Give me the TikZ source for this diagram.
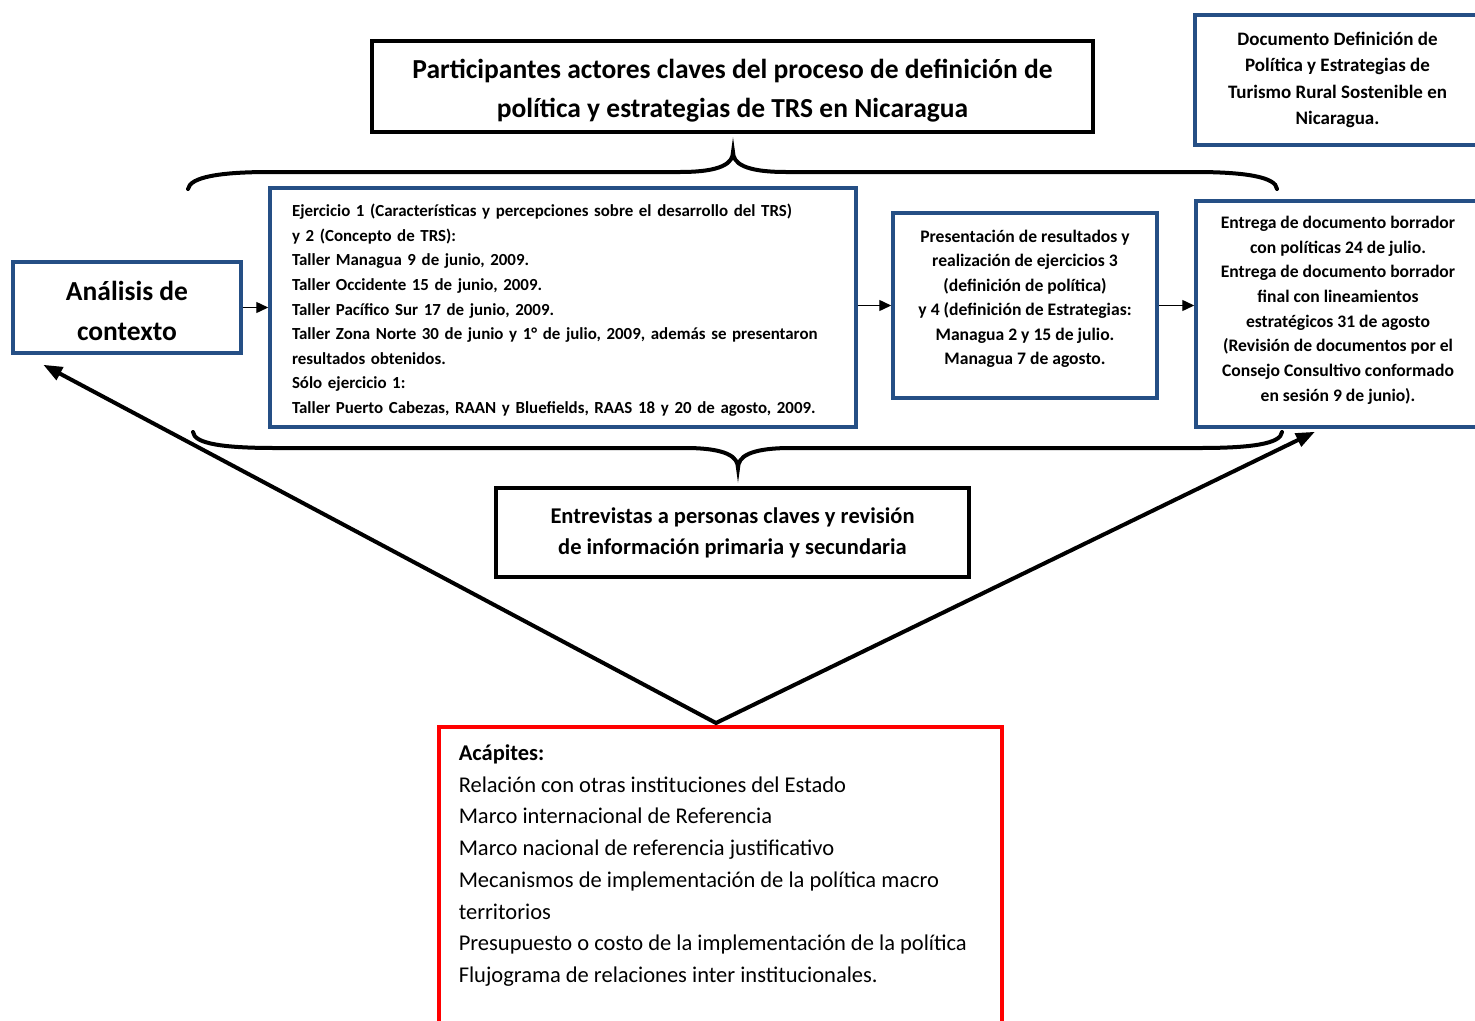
\documentclass[tikz,border=0pt]{standalone}
\usepackage{fontspec}
\setmainfont{Carlito}
\usetikzlibrary{arrows.meta,calc}
\definecolor{boxblue}{RGB}{37,79,133}
\definecolor{boxred}{RGB}{255,0,0}
\begin{document}
\begin{tikzpicture}[x=1pt,y=-1pt,
  bluebox/.style={draw=boxblue, line width=3.5pt, inner sep=0pt},
  blackbox/.style={draw=black, line width=3.5pt, inner sep=0pt},
  redbox/.style={draw=boxred, line width=3.5pt},
  conn/.style={-{Triangle[length=12pt,width=11pt]}, line width=1.4pt},
  bigarrow/.style={{Triangle[length=19pt,width=14pt]}-{Triangle[length=19pt,width=14pt]}, line width=4pt, line join=miter},
  bracepath/.style={line width=4pt, line cap=round}]
\useasboundingbox (0,0) rectangle (1475,1020);
\clip (0,0) rectangle (1475,1020);

\node[blackbox, minimum width=721pt, minimum height=91pt, align=center,
  font=\fontsize{27.5}{39}\selectfont\bfseries] (title) at (732.5,86.5)
  {\rule{0pt}{28pt}Participantes actores claves del proceso de definición de\\política y estrategias de TRS en Nicaragua};

\node[bluebox, minimum width=285pt, minimum height=130pt, align=center,
  font=\fontsize{19}{26.3}\selectfont\bfseries] (doc) at (1337.5,80)
  {Documento Definición de\\Política y Estrategias de\\Turismo Rural Sostenible en\\Nicaragua.};

\node[bluebox, minimum width=228pt, minimum height=91pt, align=center,
  font=\fontsize{27.5}{40}\selectfont\bfseries] (analisis) at (127,307.5)
  {\rule{0pt}{26pt}Análisis de\\contexto};

\node[bluebox, minimum width=586pt, minimum height=239pt, align=left, text width=542pt,
  font=\fontsize{16.9}{24.6}\selectfont\bfseries] (ejer) at (563,307.5)
  {\rule{0pt}{18pt}Ejercicio 1 (Características y percepciones sobre el desarrollo del TRS)\\
   y 2 (Concepto de TRS):\\
   Taller Managua 9 de junio, 2009.\\
   Taller Occidente 15 de junio, 2009.\\
   Taller Pacífico Sur 17 de junio, 2009.\\
   Taller Zona Norte 30 de junio y 1° de julio, 2009, además se presentaron\\
   resultados obtenidos.\\
   Sólo ejercicio 1:\\
   Taller Puerto Cabezas, RAAN y Bluefields, RAAS 18 y 20 de agosto, 2009.};

\node[bluebox, minimum width=264pt, minimum height=185pt, align=center,
  font=\fontsize{17.6}{24.5}\selectfont\bfseries] (pres) at (1025,305.5)
  {Presentación de resultados y\\realización de ejercicios 3\\(definición de política)\\y 4 (definición de Estrategias:\\Managua 2 y 15 de julio.\\Managua 7 de agosto.\rule[-16pt]{0pt}{16pt}};

\node[bluebox, minimum width=284pt, minimum height=226pt, align=center,
  font=\fontsize{17.6}{24.7}\selectfont\bfseries] (entrega) at (1338,314)
  {Entrega de documento borrador\\con políticas 24 de julio.\\Entrega de documento borrador\\final con lineamientos\\estratégicos 31 de agosto\\(Revisión de documentos por el\\Consejo Consultivo conformado\\en sesión 9 de junio).\rule[-10.5pt]{0pt}{10pt}};

\node[blackbox, minimum width=473pt, minimum height=89pt, align=center,
  font=\fontsize{22.5}{31}\selectfont\bfseries] (entrev) at (732.5,532.5)
  {Entrevistas a personas claves y revisión\\de información primaria y secundaria};

\node[redbox, anchor=north west, inner xsep=20pt, inner ysep=18pt,
  font=\fontsize{22.5}{31.7}\selectfont] (acap) at (437,725)
  {\begin{minipage}[c][300pt][t]{523pt}\raggedright
   \textbf{Acápites:}\\
   Relación con otras instituciones del Estado\\
   Marco internacional de Referencia\\
   Marco nacional de referencia justificativo\\
   Mecanismos de implementación de la política macro\\
   territorios\\
   Presupuesto o costo de la implementación de la política\\
   Flujograma de relaciones inter institucionales.
   \end{minipage}};

% connectors between boxes
\draw[conn] (analisis.east) -- (ejer.west |- analisis.east);
\draw[conn] (ejer.east |- pres.west) -- (pres.west);
\draw[conn] (pres.east) -- (pres.east -| entrega.west);

% big arrows from the red box
\coordinate (apex) at ($(acap.north west)+(279,-2)$);
\coordinate (ltip) at ($(analisis.south west)+(32,10)$);
\coordinate (rtip) at ($(entrega.south)+(-23,3)$);
\draw[bigarrow] (ltip) -- (apex) -- (rtip);

% braces
\draw[bracepath] (188,189) .. controls (190,177) and (220,172) .. (270,172) -- (680,172)
  .. controls (722,172) and (733,163) .. (733,152)
  .. controls (733,163) and (744,172) .. (786,172) -- (1195,172)
  .. controls (1245,172) and (1276,177) .. (1277,189);
\draw[bracepath] (193,432) .. controls (194,444) and (225,448) .. (275,448) -- (685,448)
  .. controls (727,448) and (738,457) .. (738,468)
  .. controls (738,457) and (749,448) .. (791,448) -- (1200,448)
  .. controls (1250,448) and (1281,444) .. (1282,432);
\end{tikzpicture}
\end{document}
